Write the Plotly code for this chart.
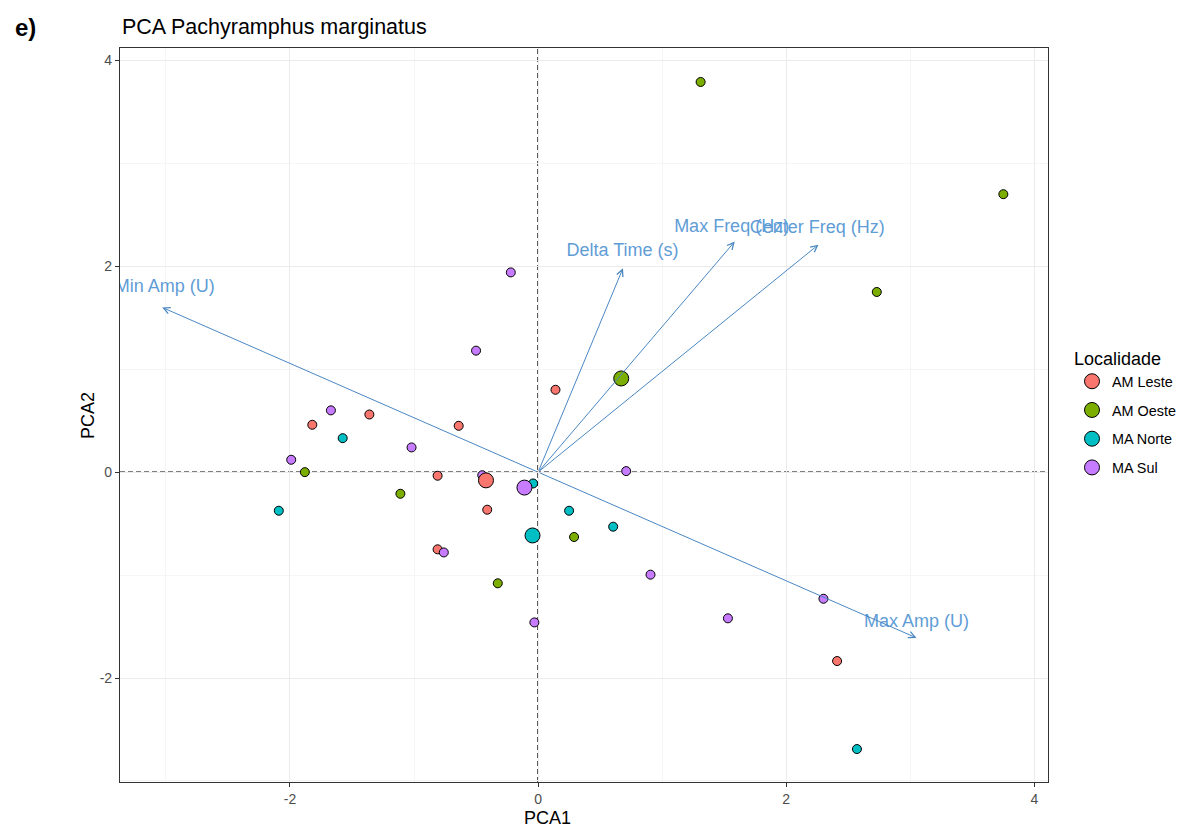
import plotly.graph_objects as go

FONT = "Liberation Sans, Arial, sans-serif"

groups = ["AM Leste", "AM Oeste", "MA Norte", "MA Sul"]
colors = ["#F8766D", "#7CAE00", "#00BFC4", "#C77CFF"]

# individual scores (PCA1, PCA2)
am_leste_x = [-1.36, -1.82, -0.64, -0.81, -0.41, -0.81, 0.14, 2.41]
am_leste_y = [0.56, 0.46, 0.45, -0.035, -0.365, -0.75, 0.80, -1.835]
am_oeste_x = [1.31, 3.75, 2.73, -1.88, -1.11, 0.29, -0.325]
am_oeste_y = [3.79, 2.70, 1.75, 0.00, -0.21, -0.63, -1.08]
ma_norte_x = [-1.575, -0.04, -2.09, 0.25, 0.605, 2.57]
ma_norte_y = [0.33, -0.11, -0.375, -0.375, -0.53, -2.69]
ma_sul_x = [-1.67, -1.02, -1.99, -0.45, 0.71, -0.76, 0.906, -0.22, -0.50, -0.03, 1.53, 2.30]
ma_sul_y = [0.60, 0.24, 0.12, -0.03, 0.01, -0.78, -0.996, 1.94, 1.18, -1.46, -1.42, -1.23]

# group centroids
centroid_x = [-0.42, 0.67, -0.045, -0.11]
centroid_y = [-0.08, 0.91, -0.615, -0.15]

# variable loadings (arrow tips) and label positions
var_names = ["Min Amp (U)", "Delta Time (s)", "Max Freq (Hz)", "Center Freq (Hz)", "Max Amp (U)"]
load_x = [-3.03, 0.684, 1.585, 2.26, 3.05]
load_y = [1.60, 1.98, 2.24, 2.21, -1.61]
label_x = [-3.01, 0.68, 1.56, 2.25, 3.05]
label_y = [1.79, 2.14, 2.38, 2.37, -1.46]

tick_vals = [-2, 0, 2, 4]
tick_text = ["-2", "0", "2", "4"]

xs = [am_leste_x, am_oeste_x, ma_norte_x, ma_sul_x]
ys = [am_leste_y, am_oeste_y, ma_norte_y, ma_sul_y]

fig = go.Figure()

arrow_color = "#4a87c2"
text_color = "#5f9dd6"

for i, g in enumerate(groups):
    fig.add_trace(go.Scatter(
        x=xs[i], y=ys[i], mode="markers", name=g, legendgroup=g, showlegend=False,
        marker=dict(size=9, color=colors[i], line=dict(color="black", width=1)),
        hoverinfo="skip"))

for i, g in enumerate(groups):
    fig.add_trace(go.Scatter(
        x=[centroid_x[i]], y=[centroid_y[i]], mode="markers", name=g, legendgroup=g,
        showlegend=True,
        marker=dict(size=15, color=colors[i], line=dict(color="black", width=1))))

fig.add_trace(go.Scatter(
    x=label_x, y=label_y, mode="text", text=var_names, showlegend=False,
    textfont=dict(family=FONT, size=18, color=text_color), cliponaxis=True,
    hoverinfo="skip"))

for i in range(len(var_names)):
    fig.add_annotation(
        x=load_x[i], y=load_y[i], ax=0, ay=0, xref="x", yref="y", axref="x", ayref="y",
        showarrow=True, arrowhead=5, arrowsize=1.3, arrowwidth=1, arrowcolor=arrow_color,
        text="")

# reference dashed lines
fig.add_shape(type="line", xref="paper", yref="y", x0=0, x1=1, y0=0, y1=0,
              line=dict(color="black", width=1.5, dash="5px,3px"), layer="below")
fig.add_shape(type="line", xref="x", yref="paper", x0=0, x1=0, y0=0, y1=1,
              line=dict(color="black", width=1.5, dash="5px,3px"), layer="below")

axis_common = dict(
    showgrid=True, gridcolor="#ebebeb", gridwidth=1.1,
    zeroline=False, showline=True, mirror=True, linecolor="#333333", linewidth=1.2,
    ticks="outside", ticklen=4, tickcolor="#333333", tickwidth=1,
    tickfont=dict(family=FONT, size=14, color="#4d4d4d"),
    tickmode="array", tickvals=tick_vals, ticktext=tick_text,
    minor=dict(dtick=1, tick0=0, showgrid=True, gridcolor="#f5f5f5", gridwidth=0.8),
)

fig.update_xaxes(range=[-3.37, 4.11], **axis_common)
fig.update_yaxes(range=[-3.01, 4.12], **axis_common)

fig.add_annotation(text="e)", xref="paper", yref="paper", x=-0.1153, y=1.0286,
                   xanchor="left", yanchor="middle", showarrow=False,
                   font=dict(family=FONT, size=24, color="black", weight="bold"))
fig.add_annotation(text="PCA Pachyramphus marginatus", xref="paper", yref="paper",
                   x=0.0, y=1.0286, xanchor="left", yanchor="middle", showarrow=False,
                   font=dict(family=FONT, size=21.5, color="black"))
fig.add_annotation(text="PCA1", xref="paper", yref="paper", x=0.4612, y=-0.049,
                   xanchor="center", yanchor="middle", showarrow=False,
                   font=dict(family=FONT, size=18, color="black"))
fig.add_annotation(text="PCA2", xref="paper", yref="paper", x=-0.0345, y=0.5,
                   xanchor="center", yanchor="middle", showarrow=False, textangle=-90,
                   font=dict(family=FONT, size=18, color="black"))

fig.update_layout(
    width=1179, height=830,
    margin=dict(l=120, r=131, t=48, b=48, autoexpand=False),
    plot_bgcolor="white", paper_bgcolor="white",
    font=dict(family=FONT),
    legend=dict(
        title=dict(text="Localidade", font=dict(family=FONT, size=18, color="black")),
        font=dict(family=FONT, size=14.4, color="black"),
        xref="container", yref="container",
        x=1072 / 1179, xanchor="left", y=1 - 342 / 830, yanchor="top",
        tracegroupgap=7, bgcolor="rgba(0,0,0,0)",
    ),
    showlegend=True,
)

fig.write_html("out.html")
